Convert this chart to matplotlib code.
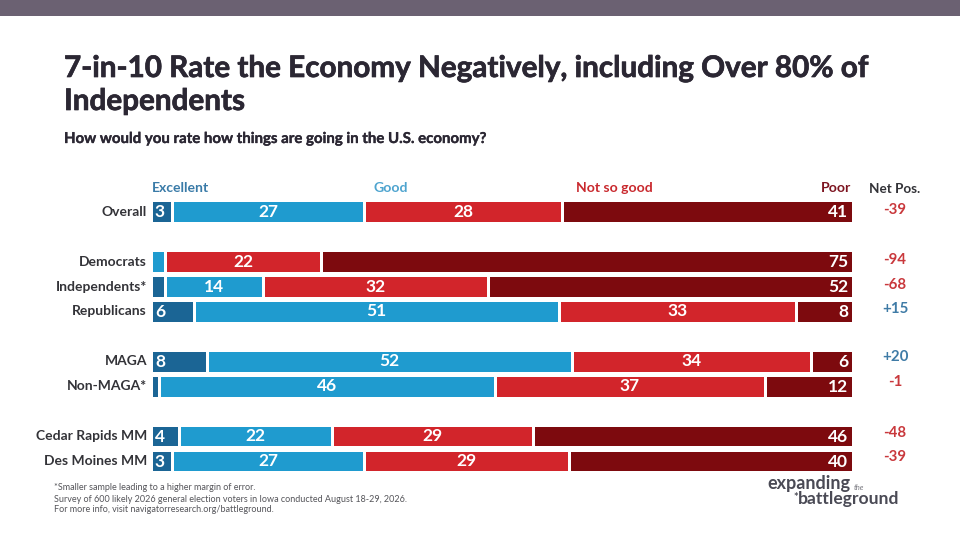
import numpy as np
import matplotlib
matplotlib.use("Agg")
import matplotlib.pyplot as plt
import matplotlib.patheffects as pe

plt.rcParams['font.family'] = ['Lato', 'DejaVu Sans']

W, H = 960, 540

# datos
categories = ["Overall", "Democrats", "Independents*", "Republicans", "MAGA", "Non-MAGA*", "Cedar Rapids MM", "Des Moines MM"]
row_index = [0, 2, 3, 4, 6, 7, 9, 10]
excellent = [3, 0, 2, 6, 8, 1, 4, 3]
good = [27, 2, 14, 51, 52, 46, 22, 27]
not_so_good = [28, 22, 32, 33, 34, 37, 29, 29]
poor = [41, 75, 52, 8, 6, 12, 46, 40]
net_labels = ["-39", "-94", "-68", "+15", "+20", "-1", "-48", "-39"]
net_nudge = [1.5, 1.5, 1.5, 2, 4, 4, 3.5, 4]
series_names = ["Excellent", "Good", "Not so good", "Poor"]
series_x = [152, 374, 576, 851]

colors = ["#1b6595", "#1f9bcf", "#d2252b", "#7d0a0e"]
header_colors = ["#3a7ba8", "#4ea4cf", "#c9292e", "#7d1420"]
NEG = "#c9383c"
POS = "#3f7ba6"
DARK = "#333338"
TITLE = "#2b2733"


def fx(px):
    return px / W


def fy(py):
    return 1 - py / H


def heavier(color, lw=0.35):
    return [pe.withStroke(linewidth=lw, foreground=color)]


fig = plt.figure(figsize=(W / 100, H / 100), dpi=100, facecolor="white")

# franja superior
fig.add_artist(plt.Rectangle((0, fy(16)), 1, 16 / H, transform=fig.transFigure, color="#6b6172", lw=0))

# barras apiladas, cada fila normalizada a su total
gap = 3
left_px, right_px = 152.7 - gap / 2, 851.3 + gap / 2
top_row, bottom_row = 211.8, 461.0
step = (bottom_row - top_row) / 10
ax = fig.add_axes([fx(left_px), fy(bottom_row + step / 2), (right_px - left_px) / W, (bottom_row - top_row + step) / H])
ax.set_xlim(0, 1)
ax.set_ylim(10.5, -0.5)
ax.axis("off")

data = np.array([excellent, good, not_so_good, poor], dtype=float)
totals = data.sum(axis=0)
lefts = np.zeros(len(categories))
for k in range(4):
    widths = data[k] / totals
    ax.barh(row_index, widths, left=lefts, height=(19.6 + gap) / step, color=colors[k], edgecolor="white", linewidth=gap * 0.72)
    for i, y in enumerate(row_index):
        v = int(data[k][i])
        if v < 3:
            continue
        if k == 0:
            ax.annotate(str(v), (lefts[i], y), xytext=(6.3, -0.5), textcoords="offset points", ha="center", va="center", color="white", fontsize=12.5, fontweight="bold")
        elif k == 3:
            ax.annotate(str(v), (1, y), xytext=(-3.5, -0.5), textcoords="offset points", ha="right", va="center", color="white", fontsize=12.5, fontweight="bold")
        else:
            ax.text(lefts[i] + widths[i] / 2, y, str(v), ha="center", va="center", color="white", fontsize=12.5, fontweight="bold")
    lefts += widths

# etiquetas de fila y columna neta
for i, y in enumerate(row_index):
    py = top_row + y * step
    fig.text(fx(147), fy(py), categories[i], ha="right", va="center", color=DARK, fontsize=10, fontweight="bold")
    fig.text(fx(895), fy(py - net_nudge[i]), net_labels[i], ha="center", va="center", color=POS if net_labels[i].startswith("+") else NEG, fontsize=10.8, fontweight="bold")

# encabezados de las series
for k in range(4):
    fig.text(fx(series_x[k]), fy(188.5), series_names[k], ha="right" if k == 3 else "left", va="center", color=header_colors[k], fontsize=10.1, fontweight="bold")
fig.text(fx(895), fy(189.5), "Net Pos.", ha="center", va="center", color=DARK, fontsize=9.7, fontweight="bold")

# titulo y subtitulo
for py, line in zip([68, 101], ["7-in-10 Rate the Economy Negatively, including Over 80% of", "Independents"]):
    fig.text(fx(64), fy(py), line, ha="left", va="center", color=TITLE, fontsize=21.35, fontweight="bold", path_effects=heavier(TITLE, 0.5))
fig.text(fx(64), fy(139), "How would you rate how things are going in the U.S. economy?", ha="left", va="center", color=TITLE, fontsize=10.8, fontweight="bold", path_effects=heavier(TITLE, 0.25))

# notas
notes = ["*Smaller sample leading to a higher margin of error.",
         "Survey of 600 likely 2026 general election voters in Iowa conducted August 18-29, 2026.",
         "For more info, visit navigatorresearch.org/battleground."]
for py, line in zip([488, 499, 510], notes):
    fig.text(fx(54), fy(py), line, ha="left", va="center", color="#55555a", fontsize=6.5)

# logo como texto
fig.text(fx(767), fy(484), "expanding", ha="left", va="center", color="#4a4a55", fontsize=13, fontweight="bold")
fig.text(fx(854), fy(487), "the", ha="left", va="center", color="#77777f", fontsize=5.5, style="italic")
fig.text(fx(793), fy(497), "*", ha="left", va="center", color="#4a4a55", fontsize=8, fontweight="bold")
fig.text(fx(798), fy(499), "battleground", ha="left", va="center", color="#4a4a55", fontsize=12.6, fontweight="bold")

fig.savefig("out.png", dpi=100)
